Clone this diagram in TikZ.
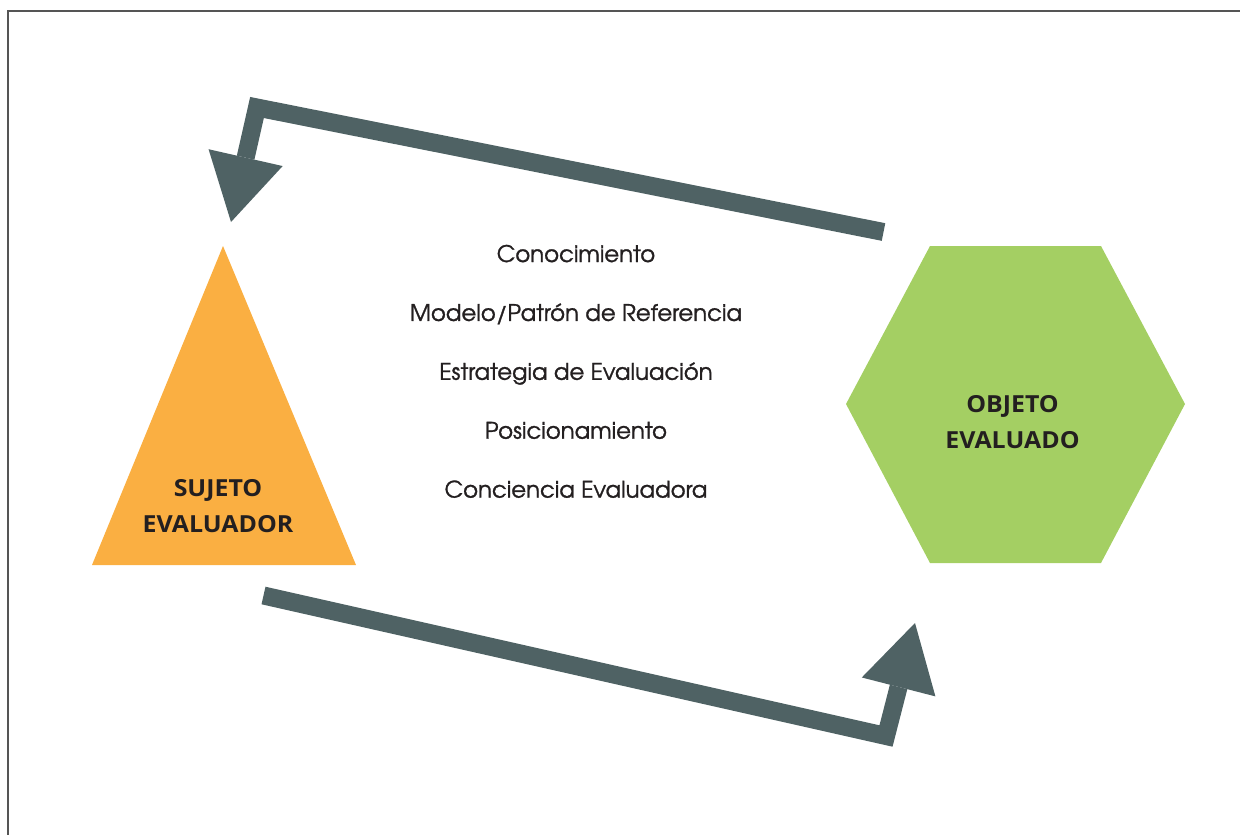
\documentclass[tikz,border=0pt]{standalone}
\usepackage{fontspec}
\usetikzlibrary{arrows.meta}
\newfontfamily\listfont{texgyreadventor-regular.otf}[FakeBold=1.2]
\newfontfamily\labelfont{Open Sans}[FakeStretch=1.06]
\definecolor{sujetocolor}{HTML}{FAAF42}
\definecolor{objetocolor}{HTML}{A4CF63}
\definecolor{flechacolor}{HTML}{4F6264}
\definecolor{tinta}{HTML}{231F20}
\definecolor{marcocolor}{HTML}{555555}
\tikzset{
  listtext/.style={font=\listfont\fontsize{22.8}{28}\selectfont, text=tinta, anchor=base, inner sep=0pt},
  shapelabel/.style={font=\labelfont\bfseries\fontsize{23.5}{28}\selectfont, text=tinta, anchor=base, inner sep=0pt},
  flecha/.style={draw=flechacolor, line width=18pt, line join=miter,
    -{Triangle[length=66pt, width=76pt, line width=0pt]}}
}
\begin{document}
\begin{tikzpicture}[x=1pt, y=-1pt]
  \useasboundingbox (0,0) rectangle (1240,835);
  % marco
  \draw[marcocolor, line width=1.5pt] (7.8,835) |- (1240,10.8);

  % sujeto y objeto
  \fill[sujetocolor] (223,246) -- (356,565) -- (92,565) -- cycle;
  \fill[objetocolor] (846,404) -- (930,246) -- (1101,246) -- (1185,404)
    -- (1101,563) -- (930,563) -- cycle;
  \node[shapelabel] (sujeto) at (218,496) {SUJETO};
  \node[shapelabel] (evaluador) at (218,532) {EVALUADOR};
  \node[shapelabel] (objeto) at (1012.5,412) {OBJETO};
  \node[shapelabel] (evaluado) at (1012.5,448) {EVALUADO};

  % flechas
  \coordinate (vuelta0) at (883.5,232);
  \coordinate (vuelta1) at (257,107.5);
  \coordinate (vuelta2) at (231,222);
  \coordinate (ida0) at (263.5,595.5);
  \coordinate (ida1) at (886,736);
  \coordinate (ida2) at (915,623);
  \draw[flecha] (vuelta0) -- (vuelta1) -- (vuelta2);
  \draw[flecha] (ida0) -- (ida1) -- (ida2);

  % lista central
  \foreach \txt [count=\i] in {Conocimiento, Modelo/Patrón de Referencia,
      Estrategia de Evaluación, Posicionamiento, Conciencia Evaluadora}
    \node[listtext] (item\i) at (576,203.1+58.9*\i) {\txt};
\end{tikzpicture}
\end{document}
